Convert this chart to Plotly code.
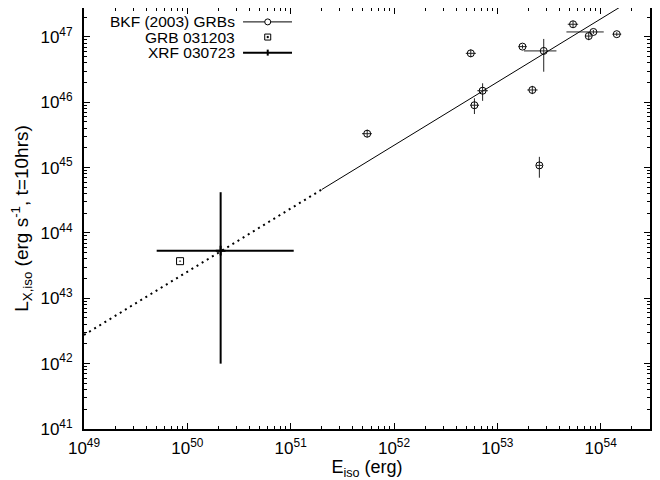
import plotly.graph_objects as go

# ---- data ----
# BKF (2003) GRBs
bkf_E    = [5.5e51, 6.0e52, 2.55e53, 5.53e52, 7.2e52, 2.18e53, 1.75e53, 2.81e53, 5.4e53, 7.66e53, 8.5e53, 1.43e54]
bkf_E_lo = [4.9e51, 5.45e52, 2.38e53, 4.95e52, 6.4e52, 1.95e53, 1.6e53, 1.81e53, 4.8e53, 7.15e53, 4.66e53, 1.3e54]
bkf_E_hi = [6.1e51, 6.65e52, 2.73e53, 6.2e52, 8.1e52, 2.45e53, 1.92e53, 3.73e53, 6.05e53, 8.2e53, 1.07e54, 1.58e54]
bkf_L    = [3.3e45, 9.0e45, 1.08e45, 5.6e46, 1.5e46, 1.54e46, 7.1e46, 6.1e46, 1.56e47, 1.03e47, 1.19e47, 1.1e47]
bkf_L_lo = [2.9e45, 6.6e45, 0.70e45, 4.9e46, 1.05e46, 1.33e46, 6.6e46, 2.93e46, 1.4e47, 0.89e47, 1.11e47, 1.03e47]
bkf_L_hi = [3.8e45, 1.15e46, 1.46e45, 6.4e46, 1.95e46, 1.78e46, 7.6e46, 9.3e46, 1.75e47, 1.18e47, 1.28e47, 1.18e47]

# GRB 031203
grb_E = [8.5e49]
grb_L = [3.7e43]

# XRF 030723
xrf_E, xrf_E_lo, xrf_E_hi = [2.1e50], [5.05e49], [1.07e51]
xrf_L, xrf_L_lo, xrf_L_hi = [5.35e43], [1.0e42], [4.2e44]

# fit line: dotted extrapolation and solid part
fit_dot_E = [1e49, 2e51]
fit_dot_L = [2.75e42, 4.62e44]
fit_sol_E = [2e51, 3e54]
fit_sol_L = [4.62e44, 5.45e47]

x_tick_vals = [1e49, 1e50, 1e51, 1e52, 1e53, 1e54]
x_tick_text = ["10<sup>49</sup>", "10<sup>50</sup>", "10<sup>51</sup>", "10<sup>52</sup>", "10<sup>53</sup>", "10<sup>54</sup>"]
y_tick_vals = [1e41, 1e42, 1e43, 1e44, 1e45, 1e46, 1e47]
y_tick_text = ["10<sup>41</sup>", "10<sup>42</sup>", "10<sup>43</sup>", "10<sup>44</sup>", "10<sup>45</sup>", "10<sup>46</sup>", "10<sup>47</sup>"]

legend_names = ["BKF (2003) GRBs", "GRB 031203", "XRF 030723"]

FONT = "Liberation Sans, Arial, Helvetica, sans-serif"

def minus(v, lo):
    return [a - b for a, b in zip(v, lo)]

def plus(v, hi):
    return [b - a for a, b in zip(v, hi)]

fig = go.Figure()

fig.add_trace(go.Scatter(x=fit_dot_E, y=fit_dot_L, mode="lines",
                         line=dict(color="black", width=2, dash="2px,4px"), showlegend=False))
fig.add_trace(go.Scatter(x=fit_sol_E, y=fit_sol_L, mode="lines",
                         line=dict(color="black", width=1), showlegend=False))

fig.add_trace(go.Scatter(
    x=bkf_E, y=bkf_L, mode="markers",
    marker=dict(symbol="circle-open", size=7, color="black", line=dict(width=1, color="black")),
    error_x=dict(type="data", symmetric=False, array=plus(bkf_E, bkf_E_hi), arrayminus=minus(bkf_E, bkf_E_lo),
                 color="#222", thickness=1, width=0),
    error_y=dict(type="data", symmetric=False, array=plus(bkf_L, bkf_L_hi), arrayminus=minus(bkf_L, bkf_L_lo),
                 color="#222", thickness=1, width=0),
    showlegend=False))

fig.add_trace(go.Scatter(
    x=grb_E, y=grb_L, mode="markers",
    marker=dict(symbol="square-open-dot", size=7, color="black", line=dict(width=1, color="black")),
    showlegend=False))

fig.add_trace(go.Scatter(
    x=xrf_E, y=xrf_L, mode="markers",
    marker=dict(symbol="cross-thin-open", size=7, color="black", line=dict(width=2, color="black")),
    error_x=dict(type="data", symmetric=False, array=plus(xrf_E, xrf_E_hi), arrayminus=minus(xrf_E, xrf_E_lo),
                 color="black", thickness=2, width=0),
    error_y=dict(type="data", symmetric=False, array=plus(xrf_L, xrf_L_hi), arrayminus=minus(xrf_L, xrf_L_lo),
                 color="black", thickness=2, width=0),
    showlegend=False))

# ---- manual gnuplot-style legend (text right, sample on the right) ----
row_y = [0.967, 0.931, 0.894]
txt_x = 0.2686
s_x0, s_x1, s_xc = 0.281, 0.3675, 0.3246
for name, yy in zip(legend_names, row_y):
    fig.add_annotation(x=txt_x, y=yy, xref="paper", yref="paper", text=name, showarrow=False,
                       xanchor="right", yanchor="middle", borderpad=0,
                       font=dict(family=FONT, size=15.5, color="black"))
shapes = []
# row 1: thin line + open circle
shapes.append(dict(type="line", xref="paper", yref="paper", x0=s_x0, x1=s_x1, y0=row_y[0], y1=row_y[0],
                   line=dict(color="black", width=1)))
shapes.append(dict(type="circle", xref="paper", yref="paper", xsizemode="pixel", ysizemode="pixel",
                   xanchor=s_xc, yanchor=row_y[0], x0=-3, x1=3, y0=-3, y1=3,
                   line=dict(color="black", width=1), fillcolor="white"))
# row 2: open square with dot
shapes.append(dict(type="rect", xref="paper", yref="paper", xsizemode="pixel", ysizemode="pixel",
                   xanchor=s_xc, yanchor=row_y[1], x0=-3, x1=3, y0=-3, y1=3,
                   line=dict(color="black", width=1), fillcolor="white"))
shapes.append(dict(type="rect", xref="paper", yref="paper", xsizemode="pixel", ysizemode="pixel",
                   xanchor=s_xc, yanchor=row_y[1], x0=-0.6, x1=0.6, y0=-0.6, y1=0.6,
                   line=dict(color="black", width=1), fillcolor="black"))
# row 3: thick line + plus
shapes.append(dict(type="line", xref="paper", yref="paper", x0=s_x0, x1=s_x1, y0=row_y[2], y1=row_y[2],
                   line=dict(color="black", width=2)))
shapes.append(dict(type="line", xref="paper", yref="paper", xsizemode="pixel", ysizemode="pixel",
                   xanchor=s_xc, yanchor=row_y[2], x0=0, x1=0, y0=-3, y1=3,
                   line=dict(color="black", width=2)))

axis_common = dict(
    type="log", showgrid=False, zeroline=False,
    showline=True, linecolor="black", linewidth=2, mirror="ticks",
    ticks="inside", ticklen=6, tickwidth=1, tickcolor="black",
    minor=dict(ticks="inside", ticklen=3, tickwidth=1, tickcolor="black", dtick="D1", showgrid=False),
    tickfont=dict(family=FONT, size=17, color="black"),
    tickmode="array",
)

fig.update_xaxes(**axis_common, range=[49, 54.4771], tickvals=x_tick_vals, ticktext=x_tick_text,
                 ticklabelstandoff=3,
                 title=dict(text="E<sub>iso</sub> (erg)", font=dict(family=FONT, size=18, color="black"), standoff=4))
fig.update_yaxes(**axis_common, range=[41, 47.442], tickvals=y_tick_vals, ticktext=y_tick_text,
                 ticklabelstandoff=6,
                 title=dict(text="L<sub>X,iso</sub> (erg s<sup>-1</sup>, t=10hrs)",
                            font=dict(family=FONT, size=19, color="black"), standoff=7))

# the page adds an 8px body margin; size the figure so the plot area lands where the reference has it
fig.update_layout(
    width=652, height=472,
    margin=dict(l=76, r=10, t=0, b=51, autoexpand=False),
    paper_bgcolor="white", plot_bgcolor="white",
    shapes=shapes, showlegend=False,
    font=dict(family=FONT, size=17, color="black"),
)

fig.write_html("out.html")
